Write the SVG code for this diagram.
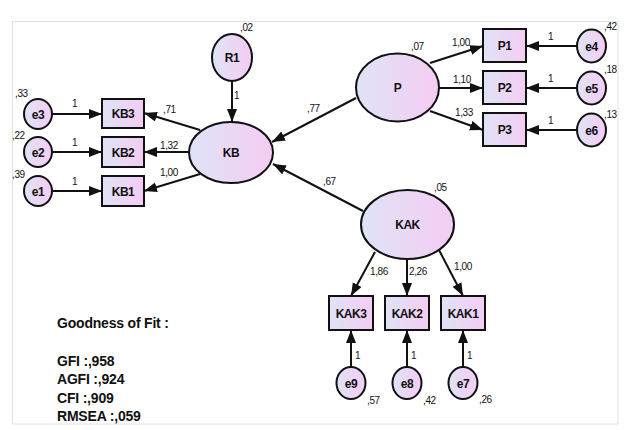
<svg xmlns="http://www.w3.org/2000/svg" width="628" height="430" viewBox="0 0 628 430">
<defs>
<linearGradient id="g" x1="0" y1="0" x2="1" y2="0">
<stop offset="0" stop-color="#dfe3f6"/>
<stop offset="1" stop-color="#f4ccf4"/>
</linearGradient>
<marker id="ah" markerUnits="userSpaceOnUse" markerWidth="14" markerHeight="11" refX="13" refY="5" orient="auto">
<path d="M0,0 L13,5 L0,10 z" fill="#111"/>
</marker>
</defs>
<style>
.n{fill:url(#g);stroke:#111;stroke-width:2}
.t{font-family:"Liberation Sans",Arial,sans-serif;font-weight:bold;font-size:12px;letter-spacing:-0.5px;fill:#111;text-anchor:middle}
.v{font-family:"Liberation Sans",Arial,sans-serif;font-size:10px;letter-spacing:-0.4px;fill:#111}
.c line{stroke:#111;stroke-width:2;marker-end:url(#ah)}
.f{font-family:"Liberation Sans",Arial,sans-serif;font-weight:bold;font-size:14px;letter-spacing:-0.2px;fill:#111}
</style>
<rect x="12.5" y="21.5" width="605.5" height="402.5" fill="#fff" stroke="#e2e2e2" stroke-width="1"/>

<g class="c" id="connectors">
<line x1="232" y1="81" x2="232" y2="122"/>
<line x1="52" y1="114" x2="102" y2="114"/>
<line x1="52" y1="152" x2="102" y2="152"/>
<line x1="52" y1="191" x2="102" y2="191"/>
<line x1="200" y1="130" x2="144" y2="113"/>
<line x1="189" y1="152" x2="144" y2="152"/>
<line x1="200" y1="174" x2="144" y2="191"/>
<line x1="356" y1="98" x2="272" y2="142"/>
<line x1="363" y1="211" x2="273" y2="164"/>
<line x1="430" y1="63" x2="483" y2="46"/>
<line x1="439" y1="88" x2="483" y2="88"/>
<line x1="430" y1="111" x2="483" y2="130"/>
<line x1="577" y1="46" x2="526" y2="46"/>
<line x1="577" y1="88" x2="526" y2="88"/>
<line x1="577" y1="130" x2="526" y2="130"/>
<line x1="375" y1="252" x2="351" y2="296"/>
<line x1="407" y1="259" x2="407" y2="296"/>
<line x1="439" y1="250" x2="463" y2="296"/>
<line x1="351" y1="367" x2="351" y2="330"/>
<line x1="407" y1="367" x2="407" y2="330"/>
<line x1="463" y1="367" x2="463" y2="330"/>
</g>

<g id="R1"><ellipse class="n" cx="232" cy="57.5" rx="20" ry="23.5"/><text class="t" x="232" y="62">R1</text><text class="v" x="240" y="31">,02</text></g>
<g id="KB"><ellipse class="n" cx="231" cy="152.5" rx="42" ry="30.5"/><text class="t" x="231" y="157">KB</text></g>
<g id="KB3"><rect class="n" x="102" y="99" width="42" height="29"/><text class="t" x="123" y="118">KB3</text></g>
<g id="KB2"><rect class="n" x="102" y="137" width="42" height="30"/><text class="t" x="123" y="156.5">KB2</text></g>
<g id="KB1"><rect class="n" x="102" y="176" width="42" height="30"/><text class="t" x="123" y="195.5">KB1</text></g>
<g id="e3"><ellipse class="n" cx="38" cy="114" rx="14" ry="15"/><text class="t" x="38" y="118.5">e3</text><text class="v" x="15" y="97">,33</text></g>
<g id="e2"><ellipse class="n" cx="38" cy="152" rx="14" ry="15"/><text class="t" x="38" y="156.5">e2</text><text class="v" x="12" y="139">,22</text></g>
<g id="e1"><ellipse class="n" cx="38" cy="191" rx="14" ry="15"/><text class="t" x="38" y="195.5">e1</text><text class="v" x="12" y="178">,39</text></g>

<g id="P"><ellipse class="n" cx="397.5" cy="87.5" rx="41.5" ry="34"/><text class="t" x="397.5" y="92">P</text><text class="v" x="411" y="50">,07</text></g>
<g id="P1"><rect class="n" x="483" y="29" width="43" height="33"/><text class="t" x="504.5" y="50">P1</text></g>
<g id="P2"><rect class="n" x="483" y="71" width="43" height="33"/><text class="t" x="504.5" y="92">P2</text></g>
<g id="P3"><rect class="n" x="483" y="113" width="43" height="33"/><text class="t" x="504.5" y="134">P3</text></g>
<g id="e4"><ellipse class="n" cx="591.5" cy="46" rx="14.5" ry="16.5"/><text class="t" x="591.5" y="50.5">e4</text><text class="v" x="604" y="30">,42</text></g>
<g id="e5"><ellipse class="n" cx="591.5" cy="88" rx="14.5" ry="16.5"/><text class="t" x="591.5" y="92.5">e5</text><text class="v" x="604" y="73">,18</text></g>
<g id="e6"><ellipse class="n" cx="591.5" cy="130" rx="14.5" ry="16.5"/><text class="t" x="591.5" y="134.5">e6</text><text class="v" x="604" y="118">,13</text></g>

<g id="KAK"><ellipse class="n" cx="407.5" cy="224.5" rx="46.5" ry="34.5"/><text class="t" x="407.5" y="229">KAK</text><text class="v" x="434" y="191">,05</text></g>
<g id="KAK3"><rect class="n" x="329" y="296" width="44" height="34"/><text class="t" x="351" y="317.5">KAK3</text></g>
<g id="KAK2"><rect class="n" x="385" y="296" width="44" height="34"/><text class="t" x="407" y="317.5">KAK2</text></g>
<g id="KAK1"><rect class="n" x="441" y="296" width="44" height="34"/><text class="t" x="463" y="317.5">KAK1</text></g>
<g id="e9"><ellipse class="n" cx="351" cy="383" rx="14.5" ry="16"/><text class="t" x="351" y="387.5">e9</text><text class="v" x="367" y="404">,57</text></g>
<g id="e8"><ellipse class="n" cx="407" cy="383" rx="14.5" ry="16"/><text class="t" x="407" y="387.5">e8</text><text class="v" x="423" y="404">,42</text></g>
<g id="e7"><ellipse class="n" cx="463" cy="383" rx="14.5" ry="16"/><text class="t" x="463" y="387.5">e7</text><text class="v" x="479" y="403">,26</text></g>

<g id="labels">
<text class="v" x="234" y="99">1</text>
<text class="v" x="72" y="107">1</text>
<text class="v" x="72" y="146">1</text>
<text class="v" x="72" y="185">1</text>
<text class="v" x="163" y="113">,71</text>
<text class="v" x="160" y="149">1,32</text>
<text class="v" x="160" y="176">1,00</text>
<text class="v" x="307" y="112">,77</text>
<text class="v" x="323" y="185">,67</text>
<text class="v" x="452" y="46">1,00</text>
<text class="v" x="453" y="83">1,10</text>
<text class="v" x="455" y="116">1,33</text>
<text class="v" x="548" y="40">1</text>
<text class="v" x="548" y="82">1</text>
<text class="v" x="548" y="124">1</text>
<text class="v" x="370" y="275">1,86</text>
<text class="v" x="409" y="275">2,26</text>
<text class="v" x="454" y="270">1,00</text>
<text class="v" x="355" y="359">1</text>
<text class="v" x="411" y="359">1</text>
<text class="v" x="467" y="359">1</text>
</g>

<g id="fit">
<text class="f" x="57" y="328">Goodness of Fit :</text>
<text class="f" x="57" y="366">GFI :,958</text>
<text class="f" x="57" y="384">AGFI :,924</text>
<text class="f" x="57" y="403">CFI :,909</text>
<text class="f" x="57" y="421">RMSEA :,059</text>
</g>
</svg>
